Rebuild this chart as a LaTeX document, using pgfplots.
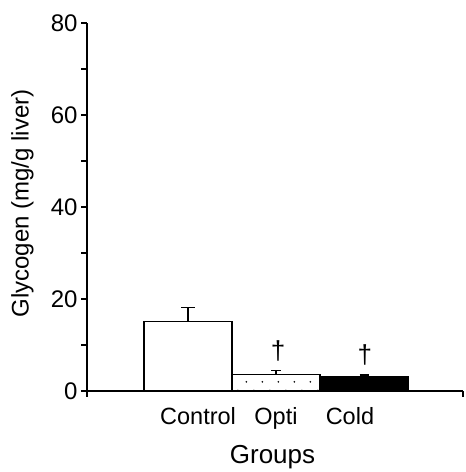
\documentclass[border=0pt]{standalone}
\usepackage{pgfplots}
\pgfplotsset{compat=1.18}
\usepackage{fontspec}
\setmainfont{Liberation Sans}
\usetikzlibrary{patterns}
\pgfdeclarepatternformonly{sparsedots}{\pgfpointorigin}{\pgfqpoint{16pt}{17.2pt}}{\pgfqpoint{16pt}{17.2pt}}{%
  \pgfpathcircle{\pgfqpoint{6.7pt}{5.3pt}}{1pt}%
  \pgfpathcircle{\pgfqpoint{14.7pt}{13.9pt}}{1pt}%
  \pgfusepath{fill}}
\begin{document}
\begin{tikzpicture}
\begin{axis}[
  scale only axis, width=376pt, height=368pt,
  xmin=-1.1477, xmax=3.125, ymin=0, ymax=80,
  clip=false,
  axis lines*=left,
  axis line style={line width=1.3pt},
  ytick={0,20,40,60,80}, minor ytick={10,30,50,70},
  tick align=outside, major tick length=6pt, minor tick length=6pt,
  tick style={black, line width=1.2pt},
  xtick={-1.1477,3.125}, xticklabels={{},{}},
  extra x ticks={0.114,1,1.84},
  extra x tick labels={Control,Opti,Cold},
  extra x tick style={major tick length=0pt,
    tick label style={font=\fontsize{23.5}{27}\selectfont, anchor=base, yshift=-34pt}},
  ticklabel style={font=\fontsize{24}{28}\selectfont},
  /pgf/number format/assume math mode=true,
  xlabel={Groups},
  xlabel style={font=\fontsize{26}{30}\selectfont, at={(axis description cs:0.4934,-0.1957)}, anchor=base},
  ylabel={Glycogen (mg/g liver)},
  ylabel style={font=\fontsize{24}{28}\selectfont, at={(axis description cs:-0.1556,0.5095)}, anchor=base, rotate=0},
]
\addplot[ybar, bar width=1, bar shift=0pt, fill=white, draw=black, line width=1.1pt,
  error bars/.cd, y dir=plus, y explicit, error mark=|,
  error bar style={line width=1.4pt}, error mark options={mark size=7pt, line width=1.4pt}]
  coordinates {(0,15.1) +- (0,3.1)};
\addplot[ybar, bar width=1, bar shift=0pt, pattern=sparsedots, pattern color=black, draw=black, line width=1.1pt,
  error bars/.cd, y dir=plus, y explicit, error mark=|,
  error bar style={line width=1.4pt}, error mark options={mark size=5pt, line width=1.4pt}]
  coordinates {(1,3.5) +- (0,0.9)};
\addplot[ybar, bar width=1, bar shift=0pt, fill=black, draw=black, line width=1.1pt,
  error bars/.cd, y dir=plus, y explicit, error mark=|,
  error bar style={line width=1.4pt}, error mark options={mark size=4.5pt, line width=1.4pt}]
  coordinates {(2,3.1) +- (0,0.35)};
\node[font=\fontsize{26}{30}\selectfont] at (axis cs:1.023,8.8) {†};
\node[font=\fontsize{26}{30}\selectfont] at (axis cs:2.01,7.8) {†};
\coordinate (bl) at (axis cs:-2.1364,-17.61);
\coordinate (tr) at (axis cs:3.1477,85.0);
\end{axis}
\pgfresetboundingbox
\useasboundingbox (bl) rectangle (tr);
\end{tikzpicture}
\end{document}
